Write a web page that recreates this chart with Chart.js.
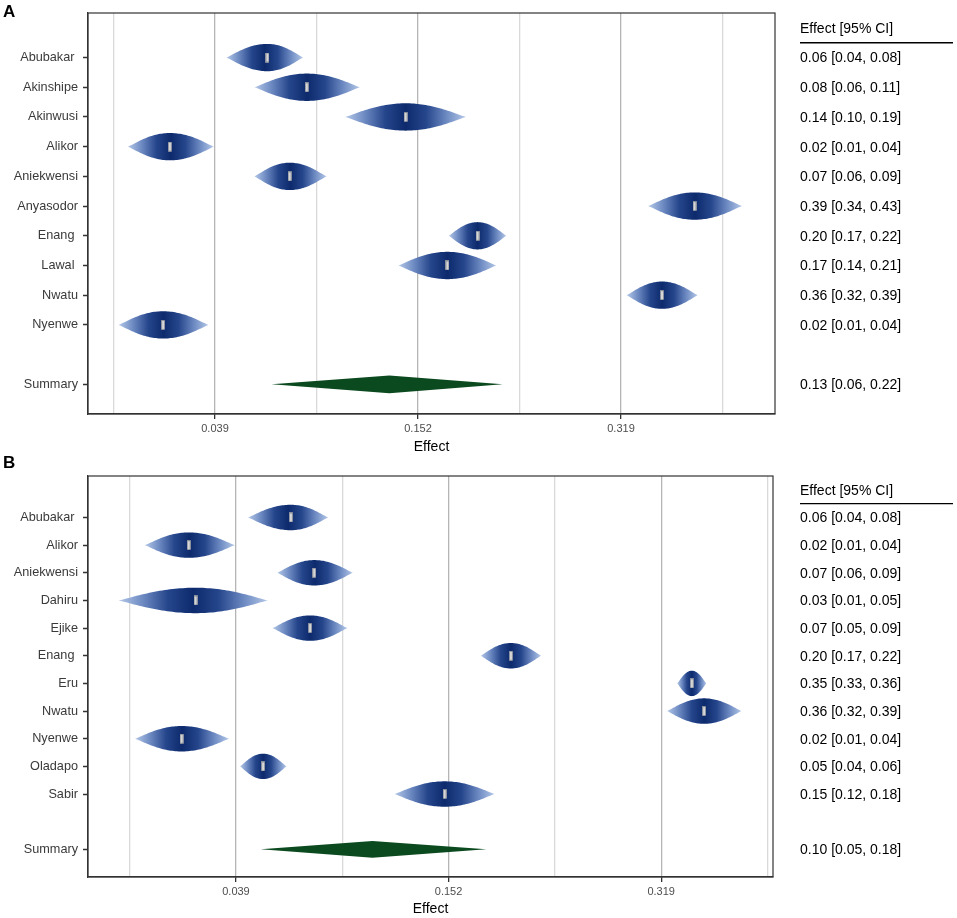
<!DOCTYPE html>
<html>
<head>
<meta charset="utf-8">
<script src="https://cdn.jsdelivr.net/npm/chart.js@4.4.1/dist/chart.umd.min.js"></script>
<style>
  body { margin: 0; background: #fff; }
  #wrap { position: relative; width: 957px; height: 918px; }
  canvas { position: absolute; left: 0; }
</style>
</head>
<body>
<div id="wrap">
  <canvas id="chartA" width="957" height="460" style="top:0"></canvas>
  <canvas id="chartB" width="957" height="466" style="top:452px"></canvas>
</div>
<script>
// Panel A data (proportions)
var studiesA = ['Abubakar ', 'Akinshipe', 'Akinwusi', 'Alikor', 'Aniekwensi', 'Anyasodor', 'Enang ', 'Lawal ', 'Nwatu', 'Nyenwe'];
var effectA = [0.062, 0.082, 0.143, 0.024, 0.073, 0.388, 0.196, 0.173, 0.357, 0.022];
var lowerA  = [0.044, 0.056, 0.104, 0.013, 0.056, 0.344, 0.174, 0.138, 0.324, 0.011];
var upperA  = [0.080, 0.113, 0.187, 0.039, 0.093, 0.434, 0.219, 0.211, 0.391, 0.037];
var summaryA = [0.132, 0.064, 0.216];

// Panel B data
var studiesB = ['Abubakar ', 'Alikor', 'Aniekwensi', 'Dahiru', 'Ejike', 'Enang ', 'Eru', 'Nwatu', 'Nyenwe', 'Oladapo', 'Sabir'];
var effectB = [0.062, 0.024, 0.073, 0.026, 0.071, 0.196, 0.346, 0.357, 0.022, 0.050, 0.149];
var lowerB  = [0.044, 0.013, 0.056, 0.008, 0.054, 0.174, 0.333, 0.324, 0.011, 0.041, 0.117];
var upperB  = [0.080, 0.039, 0.093, 0.052, 0.090, 0.219, 0.359, 0.391, 0.037, 0.060, 0.184];
var summaryB = [0.104, 0.049, 0.178];

// x axis: arcsine square-root scale, gridlines every 0.1, labels on 0.2/0.4/0.6
var gridValues = [0.1, 0.2, 0.3, 0.4, 0.5, 0.6, 0.7];
var tickLabels = ['0.039', '0.152', '0.319'];

var FONT = "'Liberation Sans', Arial, sans-serif";

function tr(p) { return Math.asin(Math.sqrt(p)); }

function isMajor(v) {
  var k = Math.round(v * 10);
  return k % 2 === 0;
}

// little grey bar used as point marker
var marker = document.createElement('canvas');
marker.width = 4; marker.height = 10;
(function () {
  var c = marker.getContext('2d');
  c.fillStyle = '#d6d6d6';
  c.fillRect(0.5, 0.5, 3, 9);
  c.strokeStyle = '#9a9a9a';
  c.lineWidth = 0.6;
  c.strokeRect(0.5, 0.5, 3, 9);
})();

var forestPlugin = {
  id: 'forest',
  beforeDatasetsDraw: function (chart) {
    var o = chart.options.plugins.forest;
    var xs = chart.scales.x, ys = chart.scales.y, ctx = chart.ctx;
    var step = Math.abs(ys.getPixelForValue(2) - ys.getPixelForValue(1));
    ctx.save();
    for (var i = 0; i < o.effect.length; i++) {
      var xl = xs.getPixelForValue(tr(o.lower[i]));
      var xr = xs.getPixelForValue(tr(o.upper[i]));
      var xc = xs.getPixelForValue(tr(o.effect[i]));
      var yc = ys.getPixelForValue(i + 1);
      var H = 0.46 * step;
      var pts = [];
      var N = 60;
      for (var k = 0; k <= N; k++) {
        var u = -1 + 2 * k / N;
        var px = u < 0 ? xc + (xc - xl) * u : xc + (xr - xc) * u;
        var h = H * Math.pow(Math.max(0, 1 - u * u), 1.15);
        pts.push([px, h]);
      }
      ctx.beginPath();
      ctx.moveTo(pts[0][0], yc);
      pts.forEach(function (p) { ctx.lineTo(p[0], yc - p[1]); });
      for (var j = pts.length - 1; j >= 0; j--) ctx.lineTo(pts[j][0], yc + pts[j][1]);
      ctx.closePath();
      var g = ctx.createLinearGradient(xl, 0, xr, 0);
      g.addColorStop(0, '#b4c8e8');
      g.addColorStop(0.16, '#6d8ac2');
      g.addColorStop(0.33, '#26468c');
      g.addColorStop(0.5, '#0c2a6c');
      g.addColorStop(0.67, '#26468c');
      g.addColorStop(0.84, '#6d8ac2');
      g.addColorStop(1, '#b4c8e8');
      ctx.fillStyle = g;
      ctx.fill();
    }
    // summary diamond
    var s = o.summary;
    var sy = ys.getPixelForValue(o.effect.length + 2);
    var sl = xs.getPixelForValue(tr(s[1]));
    var sr = xs.getPixelForValue(tr(s[2]));
    var sc = xs.getPixelForValue(tr(s[0]));
    var sh = 0.3 * step;
    ctx.beginPath();
    ctx.moveTo(sl, sy);
    ctx.lineTo(sc, sy - sh);
    ctx.lineTo(sr, sy);
    ctx.lineTo(sc, sy + sh);
    ctx.closePath();
    ctx.fillStyle = '#0b4a1f';
    ctx.fill();
    ctx.restore();
  },
  afterDraw: function (chart) {
    var o = chart.options.plugins.forest;
    var ys = chart.scales.y, ctx = chart.ctx, a = chart.chartArea;
    ctx.save();
    // frame
    ctx.strokeStyle = '#333';
    ctx.lineWidth = 1.2;
    ctx.strokeRect(a.left, a.top, a.right - a.left, a.bottom - a.top);
    // panel letter
    ctx.fillStyle = '#000';
    ctx.font = 'bold 17px ' + FONT;
    ctx.textBaseline = 'alphabetic';
    ctx.fillText(o.letter, 3, o.letterY);
    // table
    ctx.font = '14px ' + FONT;
    ctx.textBaseline = 'middle';
    ctx.fillText('Effect [95% CI]', 800, ys.getPixelForValue(0) + 1);
    var uy = ys.getPixelForValue(0.5);
    ctx.beginPath();
    ctx.moveTo(800, uy);
    ctx.lineTo(953, uy);
    ctx.lineWidth = 1.4;
    ctx.strokeStyle = '#000';
    ctx.stroke();
    var fmt = function (e, l, u) {
      return e.toFixed(2) + ' [' + l.toFixed(2) + ', ' + u.toFixed(2) + ']';
    };
    for (var i = 0; i < o.effect.length; i++) {
      ctx.fillText(fmt(o.effect[i], o.lower[i], o.upper[i]), 800, ys.getPixelForValue(i + 1) + 1);
    }
    var s = o.summary;
    ctx.fillText(fmt(s[0], s[1], s[2]), 800, ys.getPixelForValue(o.effect.length + 2) + 1);
    ctx.restore();
  }
};

function makePanel(id, letter, letterY, names, eff, lo, hi, summ, xmin, xmax, pad, titlePad) {
  var n = names.length;
  var rows = names.map(function (_, i) { return i + 1; }).concat([n + 2]);
  var labels = names.concat(['Summary']);
  var ctx = document.getElementById(id).getContext('2d');
  return new Chart(ctx, {
    type: 'scatter',
    data: {
      datasets: [{
        data: eff.map(function (e, i) { return { x: tr(e), y: i + 1 }; }),
        pointStyle: marker,
        pointRadius: 5,
        pointHoverRadius: 5
      }]
    },
    plugins: [forestPlugin],
    options: {
      responsive: false,
      animation: false,
      layout: { padding: pad },
      plugins: {
        legend: { display: false },
        tooltip: { enabled: false },
        forest: { letter: letter, letterY: letterY, effect: eff, lower: lo, upper: hi, summary: summ }
      },
      scales: {
        x: {
          type: 'linear',
          min: xmin,
          max: xmax,
          afterBuildTicks: function (s) {
            s.ticks = gridValues.map(function (v) { return { value: v }; });
          },
          afterFit: function (s) { s.height = pad.axisH; },
          ticks: {
            autoSkip: false,
            maxRotation: 0,
            padding: 3,
            color: '#4d4d4d',
            font: { family: FONT, size: 11 },
            callback: function (v) {
              if (!isMajor(v)) return '';
              return tickLabels[Math.round(v * 5) - 1];
            }
          },
          grid: {
            color: function (c) { return isMajor(c.tick.value) ? '#b5b5b5' : '#d9d9d9'; },
            lineWidth: 1.3,
            tickLength: 5,
            tickColor: function (c) { return isMajor(c.tick.value) ? '#333' : 'rgba(0,0,0,0)'; },
            tickWidth: 1.3
          },
          border: { color: '#333', width: 1.2 },
          title: {
            display: true,
            text: 'Effect',
            color: '#000',
            font: { family: FONT, size: 14 },
            padding: { top: 0, bottom: titlePad }
          }
        },
        y: {
          type: 'linear',
          reverse: true,
          min: -0.5,
          max: n + 3,
          afterBuildTicks: function (s) {
            s.ticks = rows.map(function (v) { return { value: v }; });
          },
          afterFit: function (s) { s.width = 88; },
          ticks: {
            autoSkip: false,
            padding: 5,
            color: '#3a3a3a',
            font: { family: FONT, size: 12.7 },
            callback: function (v, i) { return labels[i]; }
          },
          grid: {
            drawOnChartArea: false,
            tickLength: 5,
            tickColor: '#333',
            tickWidth: 1.5
          },
          border: { color: '#333', width: 1.2 }
        }
      }
    }
  });
}

makePanel('chartA', 'A', 17, studiesA, effectA, lowerA, upperA, summaryA, 0.0749, 0.7517,
  { left: 0, right: 182, top: 13, bottom: 0, axisH: 46 }, 4.6);
makePanel('chartB', 'B', 16, studiesB, effectB, lowerB, upperB, summaryB, 0.0608, 0.7052,
  { left: 0, right: 184, top: 24, bottom: 0, axisH: 41 }, 0.6);
</script>
</body>
</html>
